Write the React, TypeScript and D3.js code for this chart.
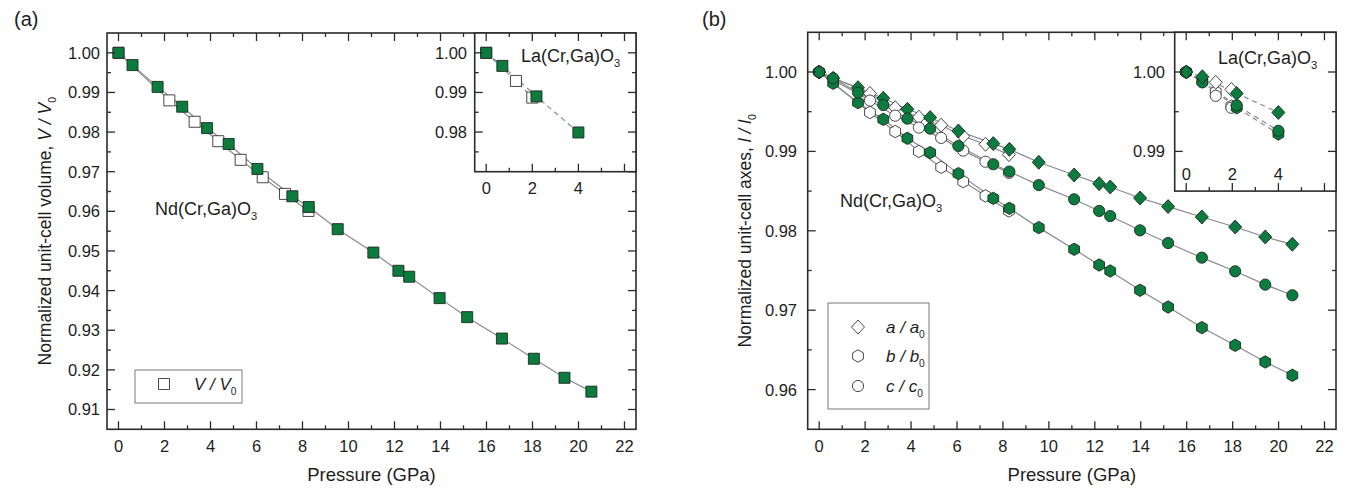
import React from "react";
import * as d3 from "d3";

// ---------- data ----------
// Panel (a): Nd(Cr,Ga)O3 unit-cell volume
const ndVolP = [0, 0.61, 1.7, 2.77, 3.85, 4.79, 6.04, 7.56, 8.27, 9.53, 11.08, 12.17, 12.64, 13.96, 15.16, 16.67, 18.06, 19.39, 20.56];
const ndVolV = [1.0, 0.9969, 0.9914, 0.9864, 0.981, 0.977, 0.9707, 0.9638, 0.9611, 0.9555, 0.9496, 0.945, 0.9435, 0.9381, 0.9333, 0.9279, 0.9228, 0.918, 0.9145];
const ndVolOpenP = [0, 2.21, 3.31, 4.34, 5.31, 6.27, 7.24, 8.26];
const ndVolOpenV = [1.0, 0.988, 0.9826, 0.9777, 0.973, 0.9686, 0.9644, 0.9601];
// inset (a): La(Cr,Ga)O3
const laVolP = [0, 0.7, 2.18, 4.0];
const laVolV = [1.0, 0.9967, 0.989, 0.9799];
const laVolOpenP = [0, 1.29, 2.0];
const laVolOpenV = [1.0, 0.9929, 0.9887];

// Panel (b): Nd(Cr,Ga)O3 axes
const ndAxP = [0, 0.61, 1.69, 2.79, 3.84, 4.83, 6.06, 7.58, 8.28, 9.56, 11.1, 12.19, 12.67, 13.97, 15.19, 16.66, 18.11, 19.42, 20.6];
const ndA = [1.0, 0.9992, 0.99803, 0.99669, 0.9953, 0.99426, 0.99257, 0.99098, 0.99026, 0.98863, 0.98703, 0.98594, 0.98552, 0.98413, 0.98305, 0.98174, 0.98048, 0.97922, 0.9783];
const ndB = [1.0, 0.99858, 0.99614, 0.99404, 0.99165, 0.98985, 0.9872, 0.98409, 0.98283, 0.9804, 0.97767, 0.97569, 0.97494, 0.97251, 0.9704, 0.96781, 0.96558, 0.96348, 0.9618];
const ndC = [1.0, 0.99921, 0.99741, 0.99584, 0.99413, 0.99287, 0.99068, 0.98838, 0.98746, 0.98575, 0.98397, 0.9825, 0.98186, 0.98006, 0.97846, 0.97662, 0.9749, 0.97322, 0.97188];
const ndAxOpenP = [0, 2.21, 3.31, 4.34, 5.31, 6.27, 7.24, 8.26];
const ndAOpen = [1.0, 0.9973, 0.9955, 0.9943, 0.9933, 0.9919, 0.9909, 0.9896];
const ndBOpen = [1.0, 0.9949, 0.9925, 0.99, 0.988, 0.9862, 0.9844, 0.9825];
const ndCOpen = [1.0, 0.9964, 0.9945, 0.993, 0.9917, 0.9901, 0.9887, 0.9873];
// inset (b): La(Cr,Ga)O3
const laAxP = [0, 0.7, 2.19, 4.0];
const laA = [1.0, 0.9994, 0.9973, 0.9949];
const laB = [1.0, 0.9988, 0.9955, 0.9922];
const laC = [1.0, 0.9987, 0.9958, 0.9926];
const laAxOpenP = [0, 1.28, 1.96];
const laAOpen = [1.0, 0.9987, 0.9978];
const laBOpen = [1.0, 0.9975, 0.9957];
const laCOpen = [1.0, 0.997, 0.9955];

// ticks
const pressureTicks = [0, 2, 4, 6, 8, 10, 12, 14, 16, 18, 20, 22];
const pressureMinor = [1, 3, 5, 7, 9, 11, 13, 15, 17, 19, 21];
const insetPTicks = [0, 2, 4, 6];
const insetPLabels = [0, 2, 4];
const insetPMinor = [1, 3, 5];
const volTicks = [0.91, 0.92, 0.93, 0.94, 0.95, 0.96, 0.97, 0.98, 0.99, 1.0];
const volMinor = [0.915, 0.925, 0.935, 0.945, 0.955, 0.965, 0.975, 0.985, 0.995];
const insetVolTicks = [0.98, 0.99, 1.0];
const insetVolMinor = [0.975, 0.985, 0.995];
const axTicks = [0.96, 0.97, 0.98, 0.99, 1.0];
const axMinor = [0.965, 0.975, 0.985, 0.995];
const insetAxTicks = [0.99, 1.0];
const insetAxMinor = [0.995];

// ---------- style ----------
const GREEN = "#0b7b3e";
const AXIS = "#2b2b2b";
const LINE = "#8a8a8a";
const FONT = "'Liberation Sans', Arial, sans-serif";
const TXT = "#1e1e1e";

type Sc = d3.ScaleLinear<number, number>;

const zip = (xs: number[], ys: number[]) => xs.map((x, i) => [x, ys[i]] as [number, number]);

function markerPath(kind: string): string {
  if (kind === "square") return "M-5.5,-5.5H5.5V5.5H-5.5Z";
  if (kind === "diamond") return "M0,-7L6.5,0L0,7L-6.5,0Z";
  const r = 6.2;
  const pts = d3.range(6).map((i) => {
    const a = (Math.PI / 3) * i - Math.PI / 2;
    return [r * Math.cos(a), r * Math.sin(a)];
  });
  return "M" + pts.map((p) => p[0].toFixed(2) + "," + p[1].toFixed(2)).join("L") + "Z";
}

function Marker({ kind, cx, cy, fill }: { kind: string; cx: number; cy: number; fill: string }) {
  const stroke = fill === GREEN ? "#1f2a20" : "#333";
  if (kind === "circle")
    return <circle cx={cx} cy={cy} r={5.6} fill={fill} stroke={stroke} strokeWidth={0.9} />;
  return <path d={markerPath(kind)} transform={`translate(${cx},${cy})`} fill={fill} stroke={stroke} strokeWidth={0.9} />;
}

function Series({ x, y, xs, ys, dashed, noLine }: { x: Sc; y: Sc; xs: number[]; ys: number[]; kind?: string; fill?: string; dashed?: boolean; noLine?: boolean }) {
  const pts = zip(xs, ys);
  const line = d3.line<[number, number]>().x((d) => x(d[0])).y((d) => y(d[1]));
  return (
    <g>
      {!noLine && <path d={line(pts) || ""} fill="none" stroke={LINE} strokeWidth={1.2} strokeDasharray={dashed ? "5,4" : undefined} />}
    </g>
  );
}

function Markers({ x, y, xs, ys, kind, fill }: { x: Sc; y: Sc; xs: number[]; ys: number[]; kind: string; fill: string }) {
  return (
    <g>
      {zip(xs, ys).map((d, i) => (
        <Marker key={i} kind={kind} cx={x(d[0])} cy={y(d[1])} fill={fill} />
      ))}
    </g>
  );
}

function Frame({ x, y, xMaj, xMin, yMaj, yMin }: any) {
  const [x0, x1] = x.range();
  const [y1, y0] = y.range();
  const M = 8, m = 4;
  const els: any[] = [];
  const tk = (k: string, a: number, b: number, c: number, d: number) =>
    els.push(<line key={k} x1={a} y1={b} x2={c} y2={d} stroke={AXIS} strokeWidth={1.3} />);
  xMaj.forEach((v: number, i: number) => {
    const px = x(v);
    tk("bM" + i, px, y1, px, y1 - M);
    tk("tM" + i, px, y0, px, y0 + M);
  });
  xMin.forEach((v: number, i: number) => {
    const px = x(v);
    tk("bm" + i, px, y1, px, y1 - m);
    tk("tm" + i, px, y0, px, y0 + m);
  });
  yMaj.forEach((v: number, i: number) => {
    const py = y(v);
    tk("lM" + i, x0, py, x0 + M, py);
    tk("rM" + i, x1, py, x1 - M, py);
  });
  yMin.forEach((v: number, i: number) => {
    const py = y(v);
    tk("lm" + i, x0, py, x0 + m, py);
    tk("rm" + i, x1, py, x1 - m, py);
  });
  return (
    <g>
      <rect x={x0} y={y0} width={x1 - x0} height={y1 - y0} fill="none" stroke={AXIS} strokeWidth={1.6} />
      {els}
    </g>
  );
}

function XLabels({ x, vals, yBase, size = 16.5 }: { x: Sc; vals: number[]; yBase: number; size?: number }) {
  return (
    <g fontFamily={FONT} fontSize={size} fill={TXT} textAnchor="middle">
      {vals.map((v, i) => (
        <text key={i} x={x(v)} y={yBase}>
          {String(v)}
        </text>
      ))}
    </g>
  );
}

function YLabels({ y, vals, xEnd, size = 16.5 }: { y: Sc; vals: number[]; xEnd: number; size?: number }) {
  return (
    <g fontFamily={FONT} fontSize={size} fill={TXT} textAnchor="end">
      {vals.map((v, i) => (
        <text key={i} x={xEnd} y={y(v) + 6}>
          {v.toFixed(2)}
        </text>
      ))}
    </g>
  );
}

function Formula({ x, y, name, size = 18 }: { x: number; y: number; name: string; size?: number }) {
  return (
    <text x={x} y={y} fontFamily={FONT} fontSize={size} fill={TXT}>
      {name}(Cr,Ga)O
      <tspan fontSize={size * 0.62} dy={5}>3</tspan>
    </text>
  );
}

function Ratio({ x, y, sym, size = 17 }: { x: number; y: number; sym: string; size?: number }) {
  return (
    <text x={x} y={y} fontFamily={FONT} fontSize={size} fill={TXT} fontStyle="italic">
      {sym}
      <tspan> / </tspan>
      {sym}
      <tspan fontSize={size * 0.6} dy={5} fontStyle="normal">0</tspan>
    </text>
  );
}

export default function App() {
  // ---- panel (a) ----
  const xa = d3.scaleLinear().domain([-0.5, 22.5]).range([107, 636]);
  const ya = d3.scaleLinear().domain([0.905, 1.005]).range([429.3, 33]);
  const xai = d3.scaleLinear().domain([-0.5, 6.5]).range([474.7, 636]);
  const yai = d3.scaleLinear().domain([0.97, 1.005]).range([171.7, 33]);
  // ---- panel (b) ----
  const xb = d3.scaleLinear().domain([-0.5, 22.5]).range([807.7, 1336]);
  const yb = d3.scaleLinear().domain([0.955, 1.005]).range([429.3, 32.3]);
  const xbi = d3.scaleLinear().domain([-0.5, 6.5]).range([1174.7, 1336]);
  const ybi = d3.scaleLinear().domain([0.985, 1.005]).range([191.1, 32.3]);

  return (
    <svg width={1357} height={491} style={{ display: "block", position: "absolute", left: 0, top: 0, background: "#fff" }}>
      <rect x={0} y={0} width={1357} height={491} fill="#fff" />
      {/* ===== Panel (a) ===== */}
      <text x={14} y={26} fontFamily={FONT} fontSize={20} fill={TXT}>(a)</text>
      <Series x={xa} y={ya} xs={ndVolOpenP} ys={ndVolOpenV} />
      <Series x={xa} y={ya} xs={ndVolP} ys={ndVolV} />
      <Markers x={xa} y={ya} xs={ndVolOpenP} ys={ndVolOpenV} kind="square" fill="#fff" />
      <Markers x={xa} y={ya} xs={ndVolP} ys={ndVolV} kind="square" fill={GREEN} />
      <Frame x={xa} y={ya} xMaj={pressureTicks} xMin={pressureMinor} yMaj={volTicks} yMin={volMinor} />
      <XLabels x={xa} vals={pressureTicks} yBase={452} />
      <YLabels y={ya} vals={volTicks} xEnd={100} />
      <text x={xa(11)} y={481} fontFamily={FONT} fontSize={18.5} fill={TXT} textAnchor="middle">Pressure (GPa)</text>
      <text transform={`translate(51,${(33 + 429.3) / 2}) rotate(-90)`} fontFamily={FONT} fontSize={17.5} fill={TXT} textAnchor="middle">
        Normalized unit-cell volume,{" "}
        <tspan fontStyle="italic">V / V</tspan>
        <tspan fontSize={10.5} dy={5}>0</tspan>
      </text>
      <Formula x={155} y={215} name="Nd" />
      {/* legend (a) */}
      <rect x={135} y={370} width={107} height={33} fill="#fff" stroke="#7a7a7a" strokeWidth={1} />
      <Marker kind="square" cx={164} cy={384} fill="#fff" />
      <Ratio x={194} y={390} sym="V" />
      {/* inset (a) */}
      <rect x={474.7} y={33} width={636 - 474.7} height={171.7 - 33} fill="#fff" />
      <Series x={xai} y={yai} xs={laVolOpenP} ys={laVolOpenV} dashed />
      <Series x={xai} y={yai} xs={laVolP} ys={laVolV} dashed />
      <Markers x={xai} y={yai} xs={laVolOpenP} ys={laVolOpenV} kind="square" fill="#fff" />
      <Markers x={xai} y={yai} xs={laVolP} ys={laVolV} kind="square" fill={GREEN} />
      <Frame x={xai} y={yai} xMaj={insetPTicks} xMin={insetPMinor} yMaj={insetVolTicks} yMin={insetVolMinor} />
      <XLabels x={xai} vals={insetPLabels} yBase={194} />
      <YLabels y={yai} vals={insetVolTicks} xEnd={467} />
      <Formula x={521} y={62} name="La" />

      {/* ===== Panel (b) ===== */}
      <text x={702} y={26} fontFamily={FONT} fontSize={20} fill={TXT}>(b)</text>
      <Series x={xb} y={yb} xs={ndAxOpenP} ys={ndAOpen} />
      <Series x={xb} y={yb} xs={ndAxOpenP} ys={ndBOpen} />
      <Series x={xb} y={yb} xs={ndAxOpenP} ys={ndCOpen} />
      <Series x={xb} y={yb} xs={ndAxP} ys={ndA} />
      <Series x={xb} y={yb} xs={ndAxP} ys={ndB} />
      <Series x={xb} y={yb} xs={ndAxP} ys={ndC} />
      <Markers x={xb} y={yb} xs={ndAxOpenP} ys={ndAOpen} kind="diamond" fill="#fff" />
      <Markers x={xb} y={yb} xs={ndAxOpenP} ys={ndBOpen} kind="hexagon" fill="#fff" />
      <Markers x={xb} y={yb} xs={ndAxOpenP} ys={ndCOpen} kind="circle" fill="#fff" />
      <Markers x={xb} y={yb} xs={ndAxP} ys={ndA} kind="diamond" fill={GREEN} />
      <Markers x={xb} y={yb} xs={ndAxP} ys={ndB} kind="hexagon" fill={GREEN} />
      <Markers x={xb} y={yb} xs={ndAxP} ys={ndC} kind="circle" fill={GREEN} />
      <Frame x={xb} y={yb} xMaj={pressureTicks} xMin={pressureMinor} yMaj={axTicks} yMin={axMinor} />
      <XLabels x={xb} vals={pressureTicks} yBase={452} />
      <YLabels y={yb} vals={axTicks} xEnd={797} />
      <text x={xb(11)} y={481} fontFamily={FONT} fontSize={18.5} fill={TXT} textAnchor="middle">Pressure (GPa)</text>
      <text transform={`translate(751,${(32.3 + 429.3) / 2}) rotate(-90)`} fontFamily={FONT} fontSize={17.5} fill={TXT} textAnchor="middle">
        Normalized unit-cell axes,{" "}
        <tspan fontStyle="italic">l / l</tspan>
        <tspan fontSize={10.5} dy={5}>0</tspan>
      </text>
      <Formula x={840} y={207} name="Nd" />
      {/* legend (b) */}
      <rect x={828} y={303} width={101} height={106} fill="#fff" stroke="#7a7a7a" strokeWidth={1} />
      <Marker kind="diamond" cx={858} cy={327} fill="#fff" />
      <Marker kind="hexagon" cx={858} cy={356} fill="#fff" />
      <Marker kind="circle" cx={858} cy={386} fill="#fff" />
      <Ratio x={886} y={333} sym="a" />
      <Ratio x={886} y={362} sym="b" />
      <Ratio x={886} y={392} sym="c" />
      {/* inset (b) */}
      <rect x={1174.7} y={32.3} width={1336 - 1174.7} height={191.1 - 32.3} fill="#fff" />
      <Series x={xbi} y={ybi} xs={laAxP} ys={laA} dashed />
      <Series x={xbi} y={ybi} xs={laAxP} ys={laB} dashed />
      <Series x={xbi} y={ybi} xs={laAxP} ys={laC} dashed />
      <Markers x={xbi} y={ybi} xs={laAxOpenP} ys={laBOpen} kind="hexagon" fill="#fff" />
      <Markers x={xbi} y={ybi} xs={laAxOpenP} ys={laCOpen} kind="circle" fill="#fff" />
      <Markers x={xbi} y={ybi} xs={laAxOpenP} ys={laAOpen} kind="diamond" fill="#fff" />
      <Markers x={xbi} y={ybi} xs={laAxP} ys={laB} kind="hexagon" fill={GREEN} />
      <Markers x={xbi} y={ybi} xs={laAxP} ys={laC} kind="circle" fill={GREEN} />
      <Markers x={xbi} y={ybi} xs={laAxP} ys={laA} kind="diamond" fill={GREEN} />
      <Frame x={xbi} y={ybi} xMaj={insetPTicks} xMin={insetPMinor} yMaj={insetAxTicks} yMin={insetAxMinor} />
      <XLabels x={xbi} vals={insetPLabels} yBase={180} />
      <YLabels y={ybi} vals={insetAxTicks} xEnd={1165} />
      <Formula x={1218} y={64} name="La" />
    </svg>
  );
}
